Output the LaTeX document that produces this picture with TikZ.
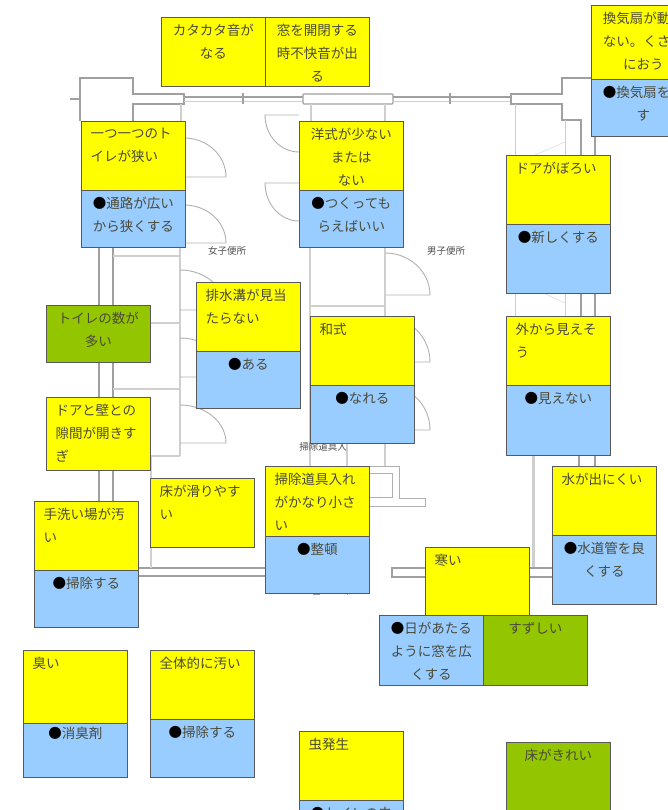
\documentclass[tikz,border=0pt]{standalone}
\usepackage{fontspec}
\setmainfont{Noto Sans CJK JP}
\definecolor{noteyellow}{HTML}{FFFF00}
\definecolor{noteblue}{HTML}{99CCFF}
\definecolor{notegreen}{HTML}{94C600}
\definecolor{wallgray}{HTML}{A0A0A0}
\definecolor{paleline}{HTML}{CFCFCF}
\definecolor{notetext}{HTML}{4A4A3A}
\newcommand{\notew}{103.5}
\newcommand{\notetop}{7pt}
\newcommand{\insetx}{9pt}
\newcommand{\blackdot}{{\color{black}●}}
% one coloured note: name, fill, x, y, height, alignment, text
\newcommand{\note}[7]{
  \node[notebox, fill=#2, minimum height=#5pt] (#1) at (#3, #4)
    {\parbox[c][#5pt][t]{\notew pt}{#6\vspace*{\notetop}#7\par}};
}
\newcommand{\leftnote}{\raggedright\leftskip=\insetx\rightskip=0pt plus 1fil}
\newcommand{\midnote}{\centering}
\tikzset{
  notebox/.style={draw=black!65, line width=1pt, anchor=north west,
    minimum width=\notew pt, inner sep=0pt, text=notetext,
    font=\fontsize{13.5pt}{23pt}\selectfont},
  wall/.style={draw=wallgray, line width=1.4pt},
  paleWall/.style={draw=paleline, line width=1.6pt},
  door/.style={draw=paleline!85!black, line width=0.9pt},
  roomname/.style={text=black!70, inner sep=0pt, font=\fontsize{9.5pt}{10pt}\selectfont}
}
\begin{document}
\begin{tikzpicture}[x=1pt,y=-1pt]
  \useasboundingbox (0,0) rectangle (668,810);
  \clip (0,0) rectangle (668,810);
  % top wall, left part
  \draw[wall] (70,99) -- (80,99);
  \draw[wall] (80,121) -- (80,78) -- (133,78) -- (133,94) -- (184,94) -- (184,104)
    -- (133,104) -- (133,121);
  \draw[paleWall] (181,104) -- (181,121);
  % windows and pillar
  \draw[wall] (184,97) -- (303,97);
  \draw[paleline] (184,101) -- (303,101);
  \draw[wall] (243,93) -- (243,104);
  \draw[wall, rounded corners=1pt] (303,94) rectangle (393,104);
  \draw[paleWall] (311,104) -- (311,121);
  \draw[paleWall] (385,104) -- (385,121);
  \draw[wall] (393,97) -- (510,97);
  \draw[paleline] (393,101) -- (510,101);
  \draw[wall] (450,93) -- (450,104);
  % top wall, right part
  \draw[wall] (591,78) -- (562,78) -- (562,94) -- (511,94) -- (511,104) -- (562,104)
    -- (562,120) -- (581,120) -- (581,155);
  \draw[wall] (595,136) -- (595,155);
  \draw[paleline] (515,104) -- (515,155);
  \draw[paleline] (565,120) -- (565,155);
  \draw[paleline] (535,155) -- (565,142);
  % doors behind the upper notes
  \draw[door] (184,138) arc[start angle=90, end angle=0, x radius=42pt, y radius=39pt]
    -- (184,177);
  \draw[door] (184,205) arc[start angle=90, end angle=0, x radius=42pt, y radius=38pt]
    -- (184,243);
  \draw[door] (299,152) arc[start angle=270, end angle=180, x radius=34pt, y radius=37pt]
    -- (299,115);
  \draw[door] (299,221) arc[start angle=270, end angle=180, x radius=34pt, y radius=38pt]
    -- (299,183);
  \draw[door] (385,253) arc[start angle=90, end angle=0, x radius=45pt, y radius=42pt]
    -- (385,295);
  \node[roomname] (womensroom) at (227,251) {女子便所};
  \node[roomname] (mensroom) at (446,251) {男子便所};
  % stalls on the left
  \draw[wall] (99,247) -- (99,501);
  \draw[wall] (113,247) -- (113,501);
  \draw[paleWall] (113,256) -- (180,256);
  \draw[paleWall] (150,323) -- (180,323);
  \draw[paleWall] (113,389) -- (180,389);
  \draw[paleWall] (150,456) -- (180,456);
  \draw[paleWall] (180,247) -- (180,456);
  \draw[paleWall] (151,456) -- (151,478);
  \draw[door] (180,270) arc[start angle=90, end angle=0, x radius=46pt, y radius=40pt]
    -- (180,310);
  \draw[door] (180,338) arc[start angle=90, end angle=0, x radius=46pt, y radius=39pt]
    -- (180,377);
  \draw[door] (180,405) arc[start angle=90, end angle=0, x radius=46pt, y radius=38pt]
    -- (180,443);
  % stalls in the middle
  \draw[paleWall] (310,247) -- (310,466);
  \draw[paleWall] (385,247) -- (385,466);
  \draw[paleWall] (310,306) -- (385,306);
  \draw[paleWall] (347,443) -- (347,466);
  \draw[door] (385,317) arc[start angle=90, end angle=0, radius=45pt] -- (385,362);
  \draw[door] (385,385) arc[start angle=90, end angle=0, radius=45pt] -- (385,430);
  \node[roomname] (broomcloset) at (323,447) {掃除道具入};
  % closet outline
  \draw[door] (368,466) -- (399,466) -- (399,498) -- (425,498) -- (425,506) -- (368,506);
  \draw[door] (368,473) -- (392,473) -- (392,497) -- (368,497);
  \draw[wall, line width=0.8pt] (313,594) -- (320,594) (347,593) -- (347,595);
  % right side walls
  \draw[paleline] (515,293) -- (515,316);
  \draw[paleline] (565,293) -- (565,316);
  \draw[paleline] (543,293) -- (565,303);
  \draw[wall] (581,293) -- (581,316);
  \draw[wall] (595,293) -- (595,316);
  \draw[wall] (579,455) -- (579,466);
  \draw[wall] (595,455) -- (595,466);
  \draw[paleWall, line width=3pt] (533,455) -- (533,568);
  % lower wall
  \draw[wall] (138,568) -- (265,568);
  \draw[wall] (138,576) -- (265,576);
  \draw[paleWall] (151,547) -- (151,568);
  \draw[wall] (425,568) -- (392,568) -- (392,577) -- (425,577);
  \draw[wall] (529,568) -- (552,568);
  \draw[wall] (529,577) -- (552,577);
  % top row
  \note{clatter}{noteyellow}{161}{17}{69}{\midnote}{カタカタ音が\\なる}
  \note{windownoise}{noteyellow}{265}{17}{69}{\midnote}{窓を開閉する\\時不快音が出\\る}
  \note{fanfix}{noteblue}{591}{79}{57}{\midnote}{\blackdot 換気扇を直\\す}
  \note{fan}{noteyellow}{591}{5}{74}{\midnote}{換気扇が動か\\ない。くさい\\におう}
  % second row
  \note{narrowfix}{noteblue}{81}{190}{57}{\midnote}{\blackdot 通路が広い\\から狭くする}
  \note{narrow}{noteyellow}{81}{121}{69}{\leftnote}{一つ一つのト\\イレが狭い}
  \note{westernfix}{noteblue}{299}{190}{57}{\midnote}{\blackdot つくっても\\らえばいい}
  \note{western}{noteyellow}{299}{121}{69}{\midnote}{洋式が少ない\\または\\ない}
  \note{oldoorfix}{noteblue}{506}{224}{69}{\midnote}{\blackdot 新しくする}
  \note{oldoor}{noteyellow}{506}{155}{69}{\leftnote}{ドアがぼろい}
  % middle rows
  \note{ditchfix}{noteblue}{196}{351}{57}{\midnote}{\blackdot ある}
  \note{ditch}{noteyellow}{196}{282}{69}{\leftnote}{排水溝が見当\\たらない}
  \note{manytoilets}{notegreen}{46}{305}{57}{\midnote}{トイレの数が\\多い}
  \note{squatfix}{noteblue}{310}{385}{58}{\midnote}{\blackdot なれる}
  \note{squat}{noteyellow}{310}{316}{69}{\leftnote}{和式}
  \note{outsidefix}{noteblue}{506}{385}{70}{\midnote}{\blackdot 見えない}
  \note{outside}{noteyellow}{506}{316}{69}{\leftnote}{外から見えそ\\う}
  \note{doorgap}{noteyellow}{46}{397}{73}{\leftnote}{ドアと壁との\\隙間が開きす\\ぎ}
  \note{slippery}{noteyellow}{150}{478}{69}{\leftnote}{床が滑りやす\\い}
  \note{closetfix}{noteblue}{265}{536}{57}{\midnote}{\blackdot 整頓}
  \note{closet}{noteyellow}{265}{466}{70}{\leftnote}{掃除道具入れ\\がかなり小さ\\い}
  \note{basinfix}{noteblue}{34}{570}{57}{\midnote}{\blackdot 掃除する}
  \note{basin}{noteyellow}{34}{501}{69}{\leftnote}{手洗い場が汚\\い}
  \note{waterfix}{noteblue}{552}{535}{69}{\midnote}{\blackdot 水道管を良\\くする}
  \note{water}{noteyellow}{552}{466}{69}{\leftnote}{水が出にくい}
  % cold corner
  \note{cold}{noteyellow}{425}{547}{68}{\leftnote}{寒い}
  \note{coldfix}{noteblue}{379}{615}{70}{\midnote}{\blackdot 日があたる\\ように窓を広\\くする}
  \note{cool}{notegreen}{483}{615}{70}{\midnote}{すずしい}
  % bottom rows
  \note{smellfix}{noteblue}{23}{723}{54}{\midnote}{\vspace*{-3.5pt}\blackdot 消臭剤}
  \note{smell}{noteyellow}{23}{650}{73}{\leftnote}{臭い}
  \note{dirtyfix}{noteblue}{150}{719}{58}{\midnote}{\blackdot 掃除する}
  \note{dirty}{noteyellow}{150}{650}{69}{\leftnote}{全体的に汚い}
  \note{bugsfix}{noteblue}{299}{800}{40}{\midnote}{\blackdot トイレの虫}
  \note{bugs}{noteyellow}{299}{731}{69}{\leftnote}{虫発生}
  \note{cleanfloor}{notegreen}{506}{742}{80}{\midnote}{床がきれい}
\end{tikzpicture}
\end{document}
